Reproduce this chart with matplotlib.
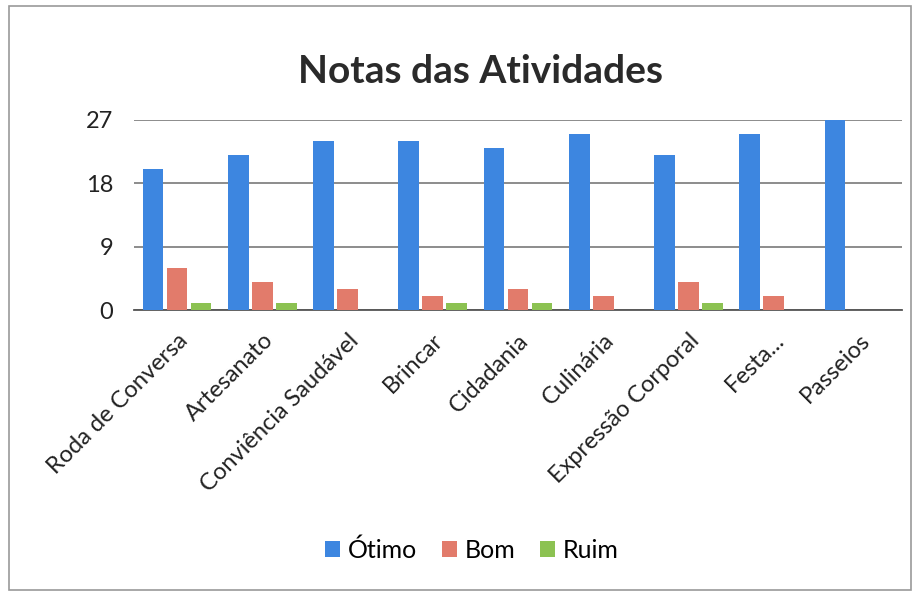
import numpy as np
import matplotlib.pyplot as plt
from matplotlib.patches import Rectangle

plt.rcParams['font.family'] = ['Lato', 'DejaVu Sans']

# Dados do gráfico
categorias = ["Roda de Conversa", "Artesanato", "Conviência Saudável", "Brincar",
              "Cidadania", "Culinária", "Expressão Corporal", "Festa...", "Passeios"]
otimo = [20, 22, 24, 24, 23, 25, 22, 25, 27]
bom = [6, 4, 3, 2, 3, 2, 4, 2, 0]
ruim = [1, 1, 0, 1, 1, 0, 1, 0, 0]
yticks = [0, 9, 18, 27]

cores = {"Ótimo": "#3d86e0", "Bom": "#e27b6b", "Ruim": "#8cc252"}

fig = plt.figure(figsize=(9.2, 5.99), dpi=100)
ax = fig.add_axes([0.146, 0.482, 0.834, 0.318])

x = np.arange(len(categorias))
w = 0.243
d = 0.281
ax.bar(x - d, otimo, w, color=cores["Ótimo"], label="Ótimo", zorder=3)
ax.bar(x, bom, w, color=cores["Bom"], label="Bom", zorder=3)
ax.bar(x + d, ruim, w, color=cores["Ruim"], label="Ruim", zorder=3)

ax.set_xlim(-0.5, len(categorias) - 0.5)
ax.set_ylim(0, 27)
ax.set_yticks(yticks)
ax.yaxis.grid(True, color="#6e6e6e", linewidth=1.1, zorder=0)
ax.tick_params(axis="y", length=0, labelsize=17, pad=15, colors="#222222")
ax.tick_params(axis="x", length=0, pad=14)
ax.set_xticks(x)
ax.set_xticklabels(categorias, rotation=45, ha="right", rotation_mode="anchor",
                   fontsize=17, color="#222222")
for s in ["top", "right", "left"]:
    ax.spines[s].set_visible(False)
ax.spines["bottom"].set_color("#555555")
ax.spines["bottom"].set_linewidth(1.3)

fig.text(0.522, 0.88, "Notas das Atividades", ha="center", va="center",
         fontsize=28, fontweight="bold", color="#2a2a2a")

fig.legend(loc="center", bbox_to_anchor=(0.513, 0.082), ncol=3, frameon=False,
           fontsize=18, handlelength=0.6, handleheight=0.6, handletextpad=0.3,
           columnspacing=1.0)

# moldura do gráfico
fig.patches.append(Rectangle((0.01, 0.015), 0.98, 0.975, transform=fig.transFigure,
                             fill=False, edgecolor="#9a9a9a", linewidth=1.2))

fig.savefig("out.png", dpi=100)
